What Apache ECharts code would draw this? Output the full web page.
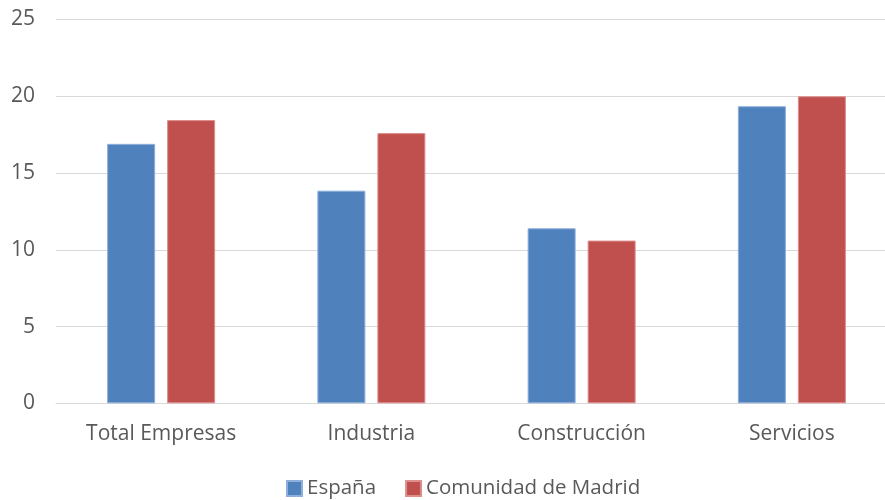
<!DOCTYPE html>
<html>
<head>
<meta charset="UTF-8">
<title>ECharts</title>
<script src="https://cdn.jsdelivr.net/npm/echarts@6/dist/echarts.min.js"></script>
</head>
<body style="margin:0">
<div id="main" style="width:885px;height:500px;"></div>
<script>
var categories = ['Total Empresas', 'Industria', 'Construcción', 'Servicios'];
var espana = [16.9, 13.85, 11.4, 19.35];
var madrid = [18.45, 17.6, 10.6, 20.0];

var myChart = echarts.init(document.getElementById('main'));
var txt = '#595959';
var font = 'Open Sans';

option = {
    animation: false,
    grid: {left: 56, right: -12, top: 19.5, bottom: 96.7, outerBoundsMode: 'none'},
    legend: {
        top: 478,
        left: 286,
        padding: 0,
        itemWidth: 15,
        itemHeight: 15,
        itemGap: 29,
        icon: 'rect',
        textStyle: {color: txt, fontSize: 20.5, fontFamily: font},
        data: ['España', 'Comunidad de Madrid']
    },
    xAxis: {
        type: 'category',
        data: categories,
        axisLine: {lineStyle: {color: '#d9d9d9'}},
        axisTick: {show: false},
        axisLabel: {color: txt, fontSize: 21, fontFamily: font, margin: 20}
    },
    yAxis: {
        type: 'value',
        min: 0,
        max: 25,
        interval: 5,
        axisLabel: {color: txt, fontSize: 21, fontFamily: font, margin: 21},
        splitLine: {lineStyle: {color: '#d9d9d9', width: 1}}
    },
    series: [
        {
            name: 'España',
            type: 'bar',
            data: espana,
            barWidth: 48,
            barGap: '25%',
            itemStyle: {color: '#4F81BD', borderColor: '#8eaedb', borderWidth: 1}
        },
        {
            name: 'Comunidad de Madrid',
            type: 'bar',
            data: madrid,
            barWidth: 48,
            itemStyle: {color: '#C0504D', borderColor: '#dc8f8d', borderWidth: 1}
        }
    ]
};

myChart.setOption(option);
</script>
</body>
</html>
